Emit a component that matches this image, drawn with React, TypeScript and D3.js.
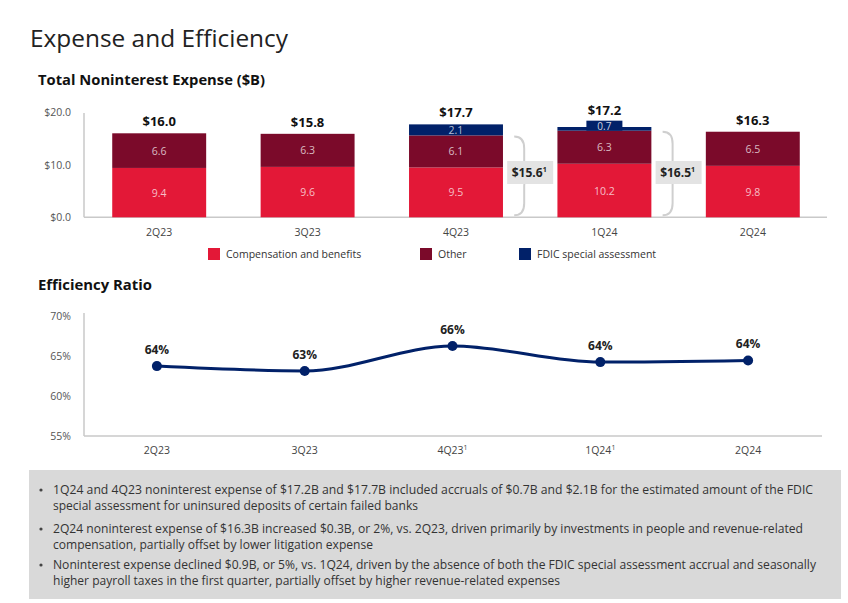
import React from "react";
import * as d3 from "d3";

const quarters = ["2Q23", "3Q23", "4Q23", "1Q24", "2Q24"];
const compensation = [9.4, 9.6, 9.5, 10.2, 9.8];
const other = [6.6, 6.3, 6.1, 6.3, 6.5];
const fdic = [0, 0, 2.1, 0.7, 0];
const totals = [16.0, 15.8, 17.7, 17.2, 16.3];
const barTicks = [0, 10, 20];
const adjustedFrom = ["4Q23", "1Q24"];
const adjustedTo = ["1Q24", "2Q24"];
const adjustedValues = [15.6, 16.5];

const efficiency = [63.7, 63.1, 66.2, 64.2, 64.4];
const efficiencyLabels = ["64%", "63%", "66%", "64%", "64%"];
const efficiencyFootnote = [false, false, true, true, false];
const effTicks = [55, 60, 65, 70];

const legendNames = ["Compensation and benefits", "Other", "FDIC special assessment"];

const bulletLines = [
  ["1Q24 and 4Q23 noninterest expense of $17.2B and $17.7B included accruals of $0.7B and $2.1B for the estimated amount of the FDIC",
   "special assessment for uninsured deposits of certain failed banks"],
  ["2Q24 noninterest expense of $16.3B increased $0.3B, or 2%, vs. 2Q23, driven primarily by investments in people and revenue-related",
   "compensation, partially offset by lower litigation expense"],
  ["Noninterest expense declined $0.9B, or 5%, vs. 1Q24, driven by the absence of both the FDIC special assessment accrual and seasonally",
   "higher payroll taxes in the first quarter, partially offset by higher revenue-related expenses"],
];
const bulletLineWidths = [[760, 365], [750, 320], [763, 507]];

const RED = "#e31837";
const MAROON = "#7b0a2a";
const NAVY = "#012169";
const AXIS = "#c9c9c9";
const FONT = "'Open Sans', 'Noto Sans', sans-serif";
const NARROW = "'Liberation Sans Narrow', 'Open Sans', sans-serif";

export default function App() {
  const xBar = d3.scaleBand<string>().domain(quarters).range([85, 827]).paddingInner(0.367).paddingOuter(0.1835);
  const yBar = d3.scaleLinear().domain([0, 20]).range([217.3, 112.3]);
  const bw = xBar.bandwidth();

  const xLine = d3.scalePoint<string>().domain(quarters).range([83, 822]).padding(0.5);
  const yLine = d3.scaleLinear().domain([55, 70]).range([436, 315.5]);
  const lineGen = d3.line<number>()
    .x((_, i) => xLine(quarters[i]) as number)
    .y((d) => yLine(d))
    .curve(d3.curveMonotoneX);

  const colors = [RED, MAROON, NAVY];

  return (
    <svg width={848} height={603} style={{ position: "absolute", left: 0, top: 0, background: "#fff" }} fontFamily={FONT}>
      <rect x={0} y={0} width={848} height={603} fill="#fff" />
      <text x={30} y={47} fontSize={24.5} fill="#222" fontWeight={400} textLength={258} lengthAdjust="spacingAndGlyphs">Expense and Efficiency</text>
      <text x={38} y={85} fontSize={14} fill="#111" fontWeight={700} textLength={227} lengthAdjust="spacingAndGlyphs">Total Noninterest Expense ($B)</text>

      {/* bar axes */}
      <line x1={84} x2={84} y1={113} y2={yBar(0)} stroke={AXIS} strokeWidth={1.5} />
      <line x1={84} x2={827} y1={yBar(0)} y2={yBar(0)} stroke={AXIS} strokeWidth={1.5} />
      {barTicks.map((t) => (
        <text key={t} x={71} y={yBar(t) + 4} fontSize={10.5} fill="#555" textAnchor="end">{"$" + t.toFixed(1)}</text>
      ))}

      {quarters.map((q, i) => {
        const x = xBar(q) as number;
        const cx = x + bw / 2;
        const segs = [compensation[i], other[i], fdic[i]];
        const smallFdic = fdic[i] > 0 && fdic[i] < 1;
        const boxTop = yBar(compensation[i] + other[i]) - 10;
        const totalY = smallFdic ? boxTop - 5.5 : yBar(totals[i]) - 7;
        let base = 0;
        return (
          <g key={q}>
            {segs.map((v, j) => {
              if (v <= 0) return null;
              const y0 = yBar(base);
              const y1 = yBar(base + v);
              base += v;
              return <rect key={j} x={x} y={y1} width={bw} height={y0 - y1} fill={colors[j]} />;
            })}
            <text x={cx} y={totalY} fontSize={13} fontWeight={700} fill="#111" textAnchor="middle">{"$" + totals[i].toFixed(1)}</text>
            {(() => {
              let b = 0;
              return segs.map((v, j) => {
                if (v <= 0) { return null; }
                const mid = (yBar(b) + yBar(b + v)) / 2;
                b += v;
                if (j === 2 && v < 1) {
                  return (
                    <g key={"l" + j}>
                      <rect x={cx - 18} y={boxTop} width={36} height={10} fill={NAVY} />
                      <text x={cx} y={boxTop + 9.3} fontSize={10} fill="#fff" fillOpacity={0.8} textAnchor="middle">{v.toFixed(1)}</text>
                    </g>
                  );
                }
                return (
                  <text key={"l" + j} x={cx} y={mid + 4} fontSize={10.5} fill="#fff" fillOpacity={0.72} textAnchor="middle">{v.toFixed(1)}</text>
                );
              });
            })()}
            <text x={cx} y={236} fontSize={10.5} fill="#444" textAnchor="middle">{q}</text>
          </g>
        );
      })}

      {/* adjusted brackets */}
      {adjustedValues.map((v, i) => {
        const left = (xBar(adjustedFrom[i]) as number) + bw;
        const right = xBar(adjustedTo[i]) as number;
        const gc = (left + right) / 2;
        const top = yBar(v) + 1;
        const bot = yBar(0) - 2;
        const mid = (top + bot) / 2;
        const x0 = gc - 16;
        const x1 = gc - 6;
        const x2 = gc;
        const p = `M${x0},${top} Q${x1},${top} ${x1},${top + 12} L${x1},${mid - 10} Q${x1},${mid} ${x2},${mid} Q${x1},${mid} ${x1},${mid + 10} L${x1},${bot - 12} Q${x1},${bot} ${x0},${bot}`;
        return (
          <g key={"adj" + i}>
            <path d={p} fill="none" stroke="#cfcfcf" strokeWidth={2} />
            <rect x={gc - 23} y={161} width={46} height={23} fill="#e3e3e3" />
            <text x={gc - 1} y={177} fontSize={12} fontWeight={700} fill="#222" textAnchor="middle">
              {"$" + v.toFixed(1)}
              <tspan fontSize={7} dy={-5}>1</tspan>
            </text>
          </g>
        );
      })}

      {/* legend */}
      {legendNames.map((n, i) => {
        const lx = [208, 420, 519][i];
        return (
          <g key={n}>
            <rect x={lx} y={248} width={12} height={12} fill={colors[i]} />
            <text x={lx + 18} y={258} fontSize={10.5} fill="#333">{n}</text>
          </g>
        );
      })}

      {/* efficiency ratio */}
      <text x={38} y={290} fontSize={14} fill="#111" fontWeight={700} textLength={114} lengthAdjust="spacingAndGlyphs">Efficiency Ratio</text>
      <line x1={84} x2={84} y1={313} y2={436} stroke={AXIS} strokeWidth={1.5} />
      <line x1={84} x2={822} y1={436} y2={436} stroke={AXIS} strokeWidth={1.5} />
      {effTicks.map((t) => (
        <text key={t} x={71} y={yLine(t) + 4} fontSize={10.5} fill="#555" textAnchor="end">{t + "%"}</text>
      ))}
      <path d={lineGen(efficiency) || ""} fill="none" stroke={NAVY} strokeWidth={3} />
      {efficiency.map((v, i) => {
        const cx = xLine(quarters[i]) as number;
        return (
          <g key={"e" + i}>
            <circle cx={cx} cy={yLine(v)} r={5} fill={NAVY} />
            <text x={cx} y={yLine(v) - 12} fontSize={12} fontWeight={700} fill="#222" textAnchor="middle">{efficiencyLabels[i]}</text>
            <text x={cx} y={454} fontSize={10.5} fill="#444" textAnchor="middle">
              {quarters[i]}
              {efficiencyFootnote[i] ? <tspan fontSize={7} dy={-4}>1</tspan> : null}
            </text>
          </g>
        );
      })}

      {/* footer */}
      <rect x={29} y={470} width={812} height={129} fill="#d9d9d9" />
      {bulletLines.map((lines, i) => {
        const by = [494, 533, 569][i];
        return (
          <g key={"b" + i}>
            <circle cx={41} cy={by - 4} r={1.6} fill="#444" />
            {lines.map((l, j) => (
              <text key={j} x={53} y={by + j * 16} fontSize={12} fill="#333" fontFamily={NARROW} textLength={bulletLineWidths[i][j]} lengthAdjust="spacingAndGlyphs">{l}</text>
            ))}
          </g>
        );
      })}
    </svg>
  );
}
